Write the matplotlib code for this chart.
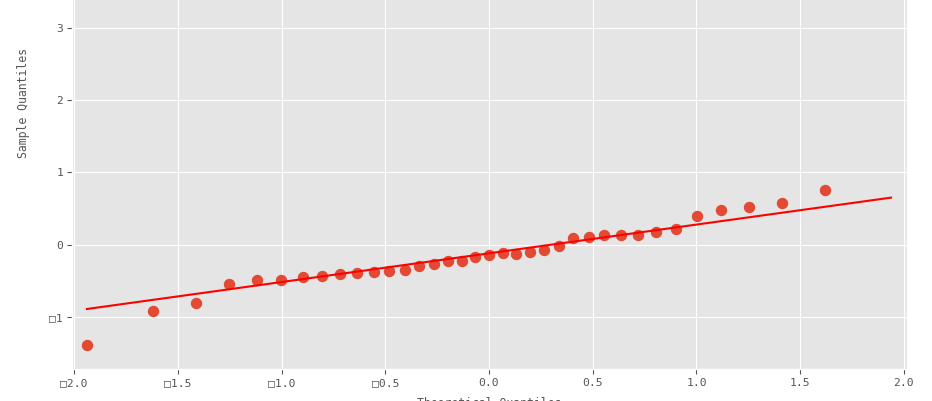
import matplotlib
matplotlib.use("Agg")
import matplotlib.pyplot as plt

# theoretical quantiles (x) and sample quantiles (y)
theoretical_q = [-1.938, -1.620, -1.412, -1.253, -1.119, -1.003, -0.899, -0.804,
                 -0.716, -0.634, -0.555, -0.480, -0.407, -0.336, -0.267, -0.199,
                 -0.132, -0.066, 0.000, 0.066, 0.132, 0.199, 0.267, 0.336,
                 0.407, 0.480, 0.555, 0.634, 0.716, 0.804, 0.899, 1.003,
                 1.119, 1.253, 1.412, 1.620]
sample_q = [-1.385, -0.915, -0.812, -0.551, -0.485, -0.485, -0.449, -0.431,
            -0.413, -0.394, -0.380, -0.362, -0.348, -0.295, -0.272, -0.224,
            -0.224, -0.178, -0.141, -0.118, -0.123, -0.104, -0.072, -0.021,
            0.090, 0.104, 0.138, 0.135, 0.135, 0.173, 0.223, 0.398,
            0.481, 0.518, 0.574, 0.757]

# reference line end points
line_x = [-1.938, 1.938]
line_y = [-0.89, 0.65]

x_ticks = [-2.0, -1.5, -1.0, -0.5, 0.0, 0.5, 1.0, 1.5, 2.0]
x_tick_labels = ["□2.0", "□1.5", "□1.0", "□0.5", "0.0", "0.5", "1.0", "1.5", "2.0"]
y_ticks = [-1, 0, 1, 2, 3]
y_tick_labels = ["□1", "0", "1", "2", "3"]

plt.style.use("ggplot")
plt.rcParams["font.family"] = ["DejaVu Sans Mono", "DejaVu Sans"]

fig = plt.figure(figsize=(9.32, 4.01), dpi=100)
# axes runs past the top of the figure (the original is a cropped screenshot)
ax = fig.add_axes([0.0773, 0.0798, 0.8959, 1.329])

ax.plot(theoretical_q, sample_q, marker="o", linestyle="none",
        color="#E24A33", markersize=7.2, markeredgecolor="#E24A33")
ax.plot(line_x, line_y, color="red", linewidth=1.5)

ax.set_xlim(-2.01, 2.015)
ax.set_ylim(-1.72, 5.65)
ax.set_xticks(x_ticks)
ax.set_xticklabels(x_tick_labels)
ax.set_yticks(y_ticks)
ax.set_yticklabels(y_tick_labels)
ax.tick_params(labelsize=8.2, length=3.5, pad=3, colors="#555555")

ax.set_xlabel("Theoretical Quantiles", fontsize=8.3, color="#555555", labelpad=6)
ax.set_ylabel("Sample Quantiles", fontsize=8.3, color="#555555", labelpad=14)

fig.savefig("out.png", dpi=100)
